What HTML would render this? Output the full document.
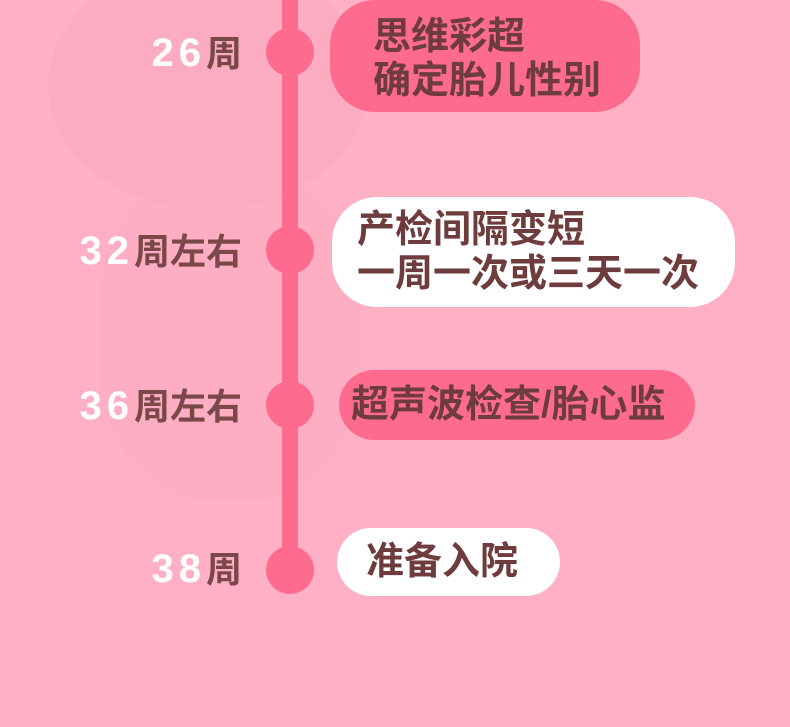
<!DOCTYPE html>
<html><head><meta charset="utf-8"><style>
body{margin:0;width:790px;height:727px;background:#ffb0c4;position:relative;overflow:hidden;font-family:"Liberation Sans","Noto Sans CJK SC",sans-serif;font-weight:bold;}
.a{position:absolute}
.line{left:282px;top:0;width:16px;height:592px;background:#ff6b8e}
.dot{width:48px;height:48px;border-radius:50%;background:#ff6b8e;left:266px}
.lab{right:548px;font-size:36px;color:#7a4848;text-align:right;white-space:nowrap;line-height:40px}
.lab span{color:#fff;font-size:40px;letter-spacing:5px}
.box{border-radius:45px;color:#6e3c3c;font-size:38px;line-height:44px;box-sizing:border-box;white-space:nowrap}
</style></head><body>
<div class="a" style="left:48px;top:-40px;width:320px;height:250px;border-radius:50%;background:#f8a8bd;opacity:.4"></div>
<div class="a" style="left:100px;top:170px;width:260px;height:330px;border-radius:40%;background:#fbadc1;opacity:.4"></div>
<div class="a line"></div>
<div class="a dot" style="top:28px"></div>
<div class="a dot" style="top:226px"></div>
<div class="a dot" style="top:381px"></div>
<div class="a dot" style="top:546px"></div>
<div class="a lab" style="top:33px"><span>26</span>周</div>
<div class="a lab" style="top:231px"><span>32</span>周左右</div>
<div class="a lab" style="top:386px"><span>36</span>周左右</div>
<div class="a lab" style="top:549px"><span>38</span>周</div>
<div class="a box" style="left:330px;top:0;width:310px;height:112px;background:#ff6b8e;padding:15px 0 0 43px">思维彩超<br>确定胎儿性别</div>
<div class="a box" style="left:332px;top:197px;width:403px;height:110px;background:#fff;padding:11px 0 0 25px">产检间隔变短<br>一周一次或三天一次</div>
<div class="a box" style="left:339px;top:370px;width:356px;height:70px;background:#ff6b8e;padding:13px 0 0 12px;border-radius:35px">超声波检查/胎心监</div>
<div class="a box" style="left:337px;top:528px;width:223px;height:68px;background:#fff;padding:12px 0 0 29px;border-radius:34px">准备入院</div>
</body></html>
